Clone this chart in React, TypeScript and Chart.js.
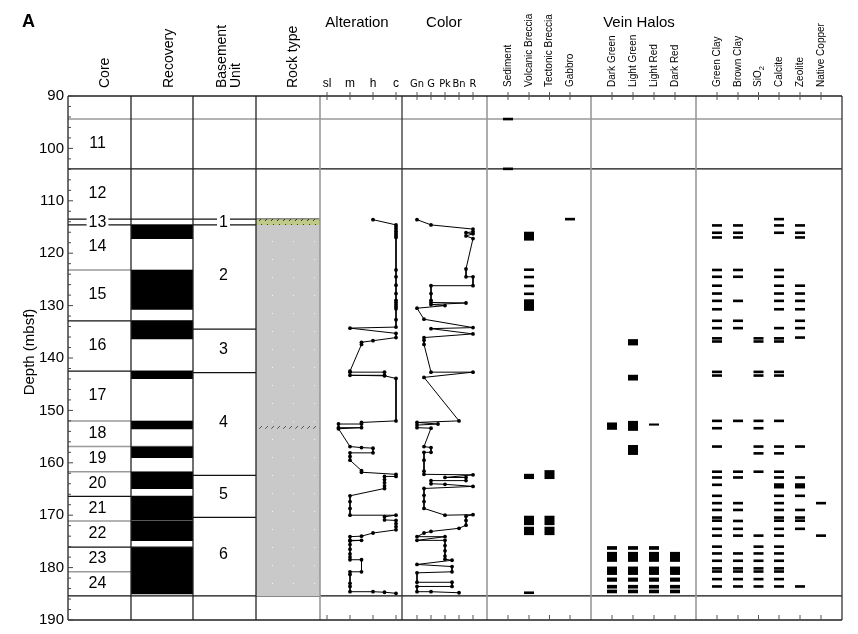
import React, { useEffect, useRef } from "react";
import { Chart, registerables } from "chart.js";
Chart.register(...registerables);

const FONT = "'Liberation Sans', Arial, Helvetica, sans-serif";
const NARROW = "'Liberation Sans Narrow', 'DejaVu Sans Condensed', 'Liberation Sans', sans-serif";

// ---------------- DATA ----------------
const depthMin = 90;
const depthMax = 190;

const coreNames = ["11", "12", "13", "14", "15", "16", "17", "18", "19", "20", "21", "22", "23", "24"];
const coreTops = [94.4, 103.9, 113.5, 114.6, 123.2, 132.9, 142.5, 152.0, 156.9, 161.7, 166.4, 171.1, 176.1, 180.8];
const coreBottoms = [103.9, 113.5, 114.6, 123.2, 132.9, 142.5, 152.0, 156.9, 161.7, 166.4, 171.1, 176.1, 180.8, 185.4];

const recoveryTops = [114.6, 123.2, 132.9, 142.5, 152.0, 156.9, 161.7, 166.4, 171.1, 176.1];
const recoveryBottoms = [117.3, 130.8, 136.4, 144.0, 153.6, 159.1, 165.0, 171.0, 174.9, 185.1];

const unitNames = ["1", "2", "3", "4", "5", "6"];
const unitTops = [113.5, 114.6, 134.5, 142.8, 162.4, 170.4];
const unitBottoms = [114.6, 134.5, 142.8, 162.4, 170.4, 185.4];

const basaltInterval = [114.6, 185.4];
const sedimentInterval = [113.5, 114.6];
const brecciaHatchInterval = [152.7, 153.5];

const alterationLabels = ["sl", "m", "h", "c"];
// [depth, class] sl=1 m=2 h=3 c=4
const alteration = [
  [113.6, 3], [114.6, 4], [115.0, 4], [115.4, 4], [115.8, 4], [116.2, 4], [116.6, 4], [117.0, 4],
  [123.2, 4], [124.5, 4], [126.1, 4], [127.7, 4], [129.0, 4], [129.4, 4], [129.8, 4], [130.2, 4], [130.6, 4], [132.7, 4], [134.1, 4],
  [134.3, 2], [135.3, 4], [136.1, 4], [136.7, 3], [137.0, 2.5], [137.4, 2.5],
  [142.5, 2], [142.7, 2], [142.7, 3.5], [143.3, 3.5], [143.3, 2], [143.4, 3.5], [143.9, 4],
  [152.0, 4], [152.3, 2.5], [152.6, 2.5], [152.6, 1.5], [153.3, 1.5], [153.3, 2.5], [153.5, 1.5],
  [156.9, 2], [157.1, 2.5], [157.2, 3], [158.1, 3], [158.1, 2], [158.8, 2], [159.5, 2],
  [161.5, 2.5], [161.8, 2.5], [162.2, 4], [162.6, 4], [162.6, 3.5], [163.2, 3.5], [163.8, 3.5], [164.4, 3.5], [164.9, 3.5],
  [166.3, 2], [167.4, 2], [168.7, 2], [170.0, 2], [170.0, 4], [170.3, 3.5], [170.9, 3.5], [171.0, 4], [171.6, 4], [172.2, 4], [172.8, 4],
  [173.4, 3], [174.0, 2.5], [174.1, 2], [174.8, 2], [174.8, 2.5], [174.9, 2], [175.6, 2], [176.5, 2], [177.4, 2], [178.0, 2],
  [178.5, 2], [178.5, 2.5], [180.8, 2.5], [180.8, 2], [181.3, 2], [183.0, 2], [183.6, 2], [184.6, 2], [184.6, 3], [184.7, 3.5], [184.9, 4],
];

const colorLabels = ["Gn", "G", "Pk", "Bn", "R"];
// [depth, class] Gn=1 G=2 Pk=3 Bn=4 R=5
const color = [
  [113.6, 1], [114.6, 2], [115.4, 5], [115.9, 5], [116.1, 4.5], [116.3, 5], [116.7, 4.5], [117.2, 5],
  [123.0, 4.5], [124.5, 4.5], [124.5, 5], [126.2, 5], [126.2, 2], [127.7, 2], [129.0, 2], [129.4, 2], [129.5, 4.5], [129.8, 2], [130.0, 3], [130.5, 1],
  [132.6, 1.5], [134.2, 5], [134.4, 2], [135.4, 5], [136.1, 1.5], [136.6, 1.5], [137.4, 1.5],
  [142.7, 2], [142.7, 5], [143.7, 1.5], [152.0, 4], [152.3, 1], [152.6, 2.5], [152.8, 1], [153.3, 1], [153.4, 2],
  [156.9, 1.5], [157.1, 2], [158.0, 2], [158.0, 1.5], [159.5, 1.5], [161.6, 1.5], [162.2, 1.5], [162.3, 5], [162.8, 3], [162.8, 4.5],
  [163.4, 4.5], [163.4, 2], [164.0, 2], [164.1, 3], [164.5, 5], [164.9, 1.5], [166.2, 1.5], [167.4, 1.5], [168.7, 1.5],
  [170.0, 3], [169.9, 5], [170.2, 4.5], [171.0, 4.5], [171.9, 4.5], [172.5, 4], [173.1, 2], [173.4, 1.5], [174.1, 1], [174.1, 3],
  [174.8, 1], [174.8, 3], [175.8, 3], [176.8, 3], [177.8, 3], [178.4, 3], [178.6, 3.5], [179.4, 1], [179.8, 3.5], [180.8, 3.5],
  [181.0, 1], [182.8, 1], [182.8, 3.5], [183.6, 3.5], [183.6, 1], [184.6, 1], [184.6, 2], [184.8, 4],
];

const brecciaLabels = ["Sediment", "Volcanic Breccia", "Tectonic Breccia", "Gabbro"];
const sedimentMarks = [[94.15, 94.65], [103.65, 104.15]];
const volcanicBreccia = [[115.9, 117.6], [122.9, 123.4], [124.3, 124.8], [126.0, 126.5], [127.5, 128.0], [128.8, 131.0], [162.1, 163.1], [170.1, 171.9], [172.2, 173.8], [184.55, 185.05]];
const tectonicBreccia = [[161.4, 163.1], [170.1, 171.9], [172.2, 173.8]];
const gabbro = [[113.25, 113.75]];

const haloLabels = ["Dark Green", "Light Green", "Light Red", "Dark Red"];
const darkGreenHalo = [[152.3, 153.7], [175.9, 176.6], [177.0, 178.9], [179.8, 181.4], [181.9, 182.7], [183.3, 184.0], [184.2, 184.9]];
const lightGreenHalo = [[136.4, 137.6], [143.2, 144.3], [152.0, 153.9], [156.6, 158.5], [175.9, 176.6], [177.0, 178.9], [179.8, 181.4], [181.9, 182.7], [183.3, 184.0], [184.2, 184.9]];
const lightRedHalo = [[152.5, 152.9], [175.9, 176.6], [177.0, 178.9], [179.8, 181.4], [181.9, 182.7], [183.3, 184.0], [184.2, 184.9]];
const darkRedHalo = [[177.0, 178.9], [179.8, 181.4], [181.9, 182.7], [183.3, 184.0], [184.2, 184.9]];

const mineralLabels = ["Green Clay", "Brown Clay", "SiO2", "Calcite", "Zeolite", "Native Copper"];
const greenClay = [114.7, 116.1, 117.0, 123.2, 124.5, 126.2, 127.7, 129.1, 130.7, 132.9, 134.3, 136.25, 136.85, 142.65, 143.35, 152.0, 153.4, 156.9, 161.7, 162.8, 164.2, 166.3, 167.7, 169.0, 170.45, 171.05, 172.6, 173.9, 176.0, 177.3, 178.7, 180.15, 180.75, 182.2, 183.6];
const brownClay = [114.7, 116.1, 117.0, 123.2, 124.5, 129.1, 132.9, 134.3, 152.0, 161.7, 162.8, 167.7, 169.0, 171.1, 172.6, 173.9, 177.3, 178.7, 180.15, 180.75, 182.2, 183.6];
const sio2 = [136.25, 136.85, 142.65, 143.35, 152.0, 153.4, 156.9, 158.2, 161.7, 173.9, 176.0, 177.3, 178.7, 180.15, 180.75, 182.2, 183.6];
const calcite = [113.5, 114.7, 116.1, 123.2, 124.5, 126.2, 127.7, 129.1, 130.7, 134.3, 136.25, 136.85, 142.65, 143.35, 152.0, 156.9, 158.2, 161.7, 162.8, [163.9, 164.9], 166.3, 167.7, 169.0, 170.45, 171.05, 172.6, 173.9, 176.0, 177.3, 178.7, 180.15, 180.75, 182.2, 183.6];
const zeolite = [114.7, 116.1, 117.0, 126.2, 127.7, 129.1, 130.7, 132.9, 134.3, 136.1, 156.9, 162.8, [163.9, 164.9], 166.3, 169.0, 170.45, 171.05, 172.6, 183.6];
const nativeCopper = [167.7, 173.9];

// ---------------- LAYOUT (x units = page pixels) ----------------
const X_LEFT = 68;
const X_RIGHT = 842;
const COLUMN_EDGES = [131, 193, 256, 320, 402, 487, 591, 696, 842];
const EDGE_COLORS = ["#222", "#222", "#222", "#999", "#333", "#999", "#999", "#999", "#333"];
const ALT_X = [327, 350, 373, 396];
const COLOR_X = [417, 431, 445, 459, 473];
const BRECCIA_X = [508, 529, 549.5, 570];
const HALO_X = [612, 633, 654, 675];
const MINERAL_X = [717, 738, 758.5, 779, 800, 821];
const CORE_X = 97.5, RECOVERY_X = 162, UNIT_X = 223.5, ROCK_X = 288;
const GRAY_CORE_LINES = [123.2, 152.0, 156.9, 161.7, 171.1, 180.8];
const DASH = 0.5;

const altX = (v: number) => ALT_X[0] + (v - 1) * (ALT_X[3] - ALT_X[0]) / 3;
const colX = (v: number) => COLOR_X[0] + (v - 1) * (COLOR_X[4] - COLOR_X[0]) / 4;
const toInterval = (m: any) => (Array.isArray(m) ? m : [m - DASH / 2, m + DASH / 2]);

function lineDs(pts: number[][], mapX: (v: number) => number) {
  return {
    type: "scatter",
    showLine: true,
    data: pts.map(([d, v]) => ({ x: mapX(v), y: d })),
    borderColor: "#000",
    borderWidth: 1,
    pointRadius: 1.9,
    pointBackgroundColor: "#000",
    pointBorderWidth: 0,
    order: 0,
  };
}

function barDs(xc: number, intervals: any[], thickness: number, bg: any, order: number) {
  return {
    type: "bar",
    data: intervals.map((iv) => ({ x: xc, y: iv })),
    backgroundColor: bg,
    borderWidth: 0,
    borderSkipped: false,
    barThickness: thickness,
    inflateAmount: 0,
    stack: "all",
    order,
  };
}

const decorPlugin = {
  id: "decor",
  beforeDatasetsDraw(chart: any) {
    const { ctx, scales } = chart;
    const X = (v: number) => scales.x.getPixelForValue(v);
    const Y = (d: number) => scales.y.getPixelForValue(d);
    ctx.save();
    const hline = (d: number, x1: number, x2: number, col: string, w: number) => {
      ctx.strokeStyle = col;
      ctx.lineWidth = w;
      ctx.beginPath();
      ctx.moveTo(X(x1), Y(d));
      ctx.lineTo(X(x2), Y(d));
      ctx.stroke();
    };
    hline(coreTops[0], X_LEFT, X_RIGHT, "#999", 1.5);
    hline(coreTops[1], X_LEFT, X_RIGHT, "#111", 1.2);
    hline(coreBottoms[coreBottoms.length - 1], X_LEFT, X_RIGHT, "#111", 1.2);
    coreTops.slice(2).forEach((t) => {
      const gray = GRAY_CORE_LINES.includes(t);
      hline(t, X_LEFT, COLUMN_EDGES[1], gray ? "#999" : "#111", gray ? 1.5 : 1.2);
    });
    unitTops.forEach((t) => hline(t, COLUMN_EDGES[1], COLUMN_EDGES[3], "#111", 1.2));
    ctx.restore();
  },
  afterDatasetsDraw(chart: any) {
    const { ctx, chartArea: ca, scales } = chart;
    const X = (v: number) => scales.x.getPixelForValue(v);
    const Y = (d: number) => scales.y.getPixelForValue(d);
    ctx.save();
    COLUMN_EDGES.forEach((e, i) => {
      ctx.strokeStyle = EDGE_COLORS[i];
      ctx.lineWidth = EDGE_COLORS[i] === "#999" ? 1.6 : 1.3;
      ctx.beginPath();
      ctx.moveTo(X(e), ca.top);
      ctx.lineTo(X(e), ca.bottom);
      ctx.stroke();
    });
    ctx.strokeStyle = "#222";
    ctx.lineWidth = 1.3;
    ctx.beginPath();
    ctx.moveTo(ca.left, ca.top);
    ctx.lineTo(ca.right, ca.top);
    ctx.moveTo(ca.left, ca.bottom);
    ctx.lineTo(ca.right, ca.bottom);
    ctx.moveTo(ca.left, ca.top);
    ctx.lineTo(ca.left, ca.bottom);
    ctx.stroke();
    ctx.strokeStyle = "#444";
    ctx.lineWidth = 1;
    for (let d = depthMin; d <= depthMax; d += 2) {
      const len = d % 10 === 0 ? 5 : 3;
      const yy = Y(d);
      ctx.beginPath();
      ctx.moveTo(ca.left, yy);
      ctx.lineTo(ca.left + len, yy);
      ctx.stroke();
    }
    const allTicks = [...ALT_X, ...COLOR_X, ...BRECCIA_X, ...HALO_X, ...MINERAL_X];
    ctx.strokeStyle = "#555";
    allTicks.forEach((t) => {
      ctx.beginPath();
      ctx.moveTo(X(t), ca.top - 4);
      ctx.lineTo(X(t), ca.top + 4);
      ctx.moveTo(X(t), ca.bottom - 5);
      ctx.lineTo(X(t), ca.bottom);
      ctx.stroke();
    });
    ctx.font = `16px ${FONT}`;
    ctx.textAlign = "center";
    ctx.textBaseline = "middle";
    const label = (txt: string, x: number, d: number) => {
      const w = ctx.measureText(txt).width;
      const yy = Y(d);
      ctx.fillStyle = "#fff";
      ctx.fillRect(X(x) - w / 2 - 2, yy - 6, w + 4, 12);
      ctx.fillStyle = "#000";
      ctx.fillText(txt, X(x), yy + 0.5);
    };
    coreNames.forEach((n, i) => label(n, CORE_X, (coreTops[i] + coreBottoms[i]) / 2 - (i === 2 ? 0 : 0.2)));
    unitNames.forEach((n, i) => label(n, UNIT_X, (unitTops[i] + unitBottoms[i]) / 2 - (i === 0 ? 0 : 0.4)));
    ctx.restore();
  },
  afterDraw(chart: any) {
    const { ctx, scales } = chart;
    const X = (v: number) => scales.x.getPixelForValue(v);
    ctx.save();
    ctx.fillStyle = "#000";
    ctx.font = `bold 18px ${FONT}`;
    ctx.textAlign = "left";
    ctx.textBaseline = "middle";
    ctx.fillText("A", 22, 22);
    ctx.font = `15px ${FONT}`;
    ctx.textAlign = "center";
    ctx.fillText("Alteration", X(357), 23);
    ctx.fillText("Color", X(444), 23);
    ctx.fillText("Vein Halos", X(639), 23);
    const vtext = (txt: string, x: number, y: number, size: number) => {
      ctx.save();
      ctx.translate(x, y);
      ctx.rotate(-Math.PI / 2);
      ctx.font = `${size}px ${FONT}`;
      ctx.textAlign = "left";
      ctx.textBaseline = "middle";
      if (txt === "SiO2") {
        ctx.fillText("SiO", 0, 0);
        const w = ctx.measureText("SiO").width;
        ctx.font = `${size * 0.75}px ${FONT}`;
        ctx.fillText("2", w, 3.5);
      } else {
        ctx.fillText(txt, 0, 0);
      }
      ctx.restore();
    };
    vtext("Core", X(105), 88, 14);
    vtext("Recovery", X(169), 88, 14);
    vtext("Basement", X(222), 88, 14);
    vtext("Unit", X(236), 88, 14);
    vtext("Rock type", X(293), 88, 14);
    brecciaLabels.forEach((l, i) => vtext(l, X(BRECCIA_X[i]), 87, 10));
    haloLabels.forEach((l, i) => vtext(l, X(HALO_X[i]), 87, 10));
    mineralLabels.forEach((l, i) => vtext(l, X(MINERAL_X[i]), 87, 10));
    ctx.font = `12px ${FONT}`;
    ctx.textAlign = "center";
    ctx.textBaseline = "alphabetic";
    alterationLabels.forEach((l, i) => ctx.fillText(l, X(ALT_X[i]), 87));
    ctx.font = `11px ${NARROW}`;
    colorLabels.forEach((l, i) => ctx.fillText(l, X(COLOR_X[i]), 87));
    ctx.save();
    ctx.translate(30, 352);
    ctx.rotate(-Math.PI / 2);
    ctx.font = `15px ${FONT}`;
    ctx.textAlign = "center";
    ctx.textBaseline = "middle";
    ctx.fillText("Depth (mbsf)", 0, 0);
    ctx.restore();
    ctx.restore();
  },
};

export default function App() {
  const canvasRef = useRef<HTMLCanvasElement | null>(null);
  useEffect(() => {
    const canvas = canvasRef.current;
    if (!canvas) return;
    const mainCtx = canvas.getContext("2d") as CanvasRenderingContext2D;
    const mk = (w: number, h: number, draw: (g: CanvasRenderingContext2D) => void) => {
      const c = document.createElement("canvas");
      c.width = w;
      c.height = h;
      draw(c.getContext("2d") as CanvasRenderingContext2D);
      return mainCtx.createPattern(c, "repeat");
    };
    const basaltPattern = mk(21, 18, (g) => {
      g.fillStyle = "#c9c9c9";
      g.fillRect(0, 0, 21, 18);
      g.fillStyle = "#f4f4f4";
      g.fillRect(20, 7, 1, 1);
    });
    const sedimentPattern = mk(6, 6, (g) => {
      g.fillStyle = "#bfc98a";
      g.fillRect(0, 0, 6, 6);
      g.strokeStyle = "#333";
      g.lineWidth = 1;
      g.beginPath();
      g.moveTo(1, 5);
      g.lineTo(4, 2);
      g.stroke();
    });
    const hatchPattern = mk(6, 5, (g) => {
      g.clearRect(0, 0, 6, 5);
      g.strokeStyle = "#555";
      g.lineWidth = 1;
      g.beginPath();
      g.moveTo(1, 4);
      g.lineTo(4, 1);
      g.stroke();
    });

    const brecciaSeries = [sedimentMarks, volcanicBreccia, tectonicBreccia, gabbro];
    const haloSeries = [darkGreenHalo, lightGreenHalo, lightRedHalo, darkRedHalo];
    const mineralSeries = [greenClay, brownClay, sio2, calcite, zeolite, nativeCopper];

    const datasets: any[] = [
      lineDs(alteration, altX),
      lineDs(color, colX),
      ...brecciaSeries.map((s, i) => barDs(BRECCIA_X[i], s, 10, "#000", 1)),
      ...haloSeries.map((s, i) => barDs(HALO_X[i], s, 10, "#000", 1)),
      ...mineralSeries.map((s, i) => barDs(MINERAL_X[i], (s as any[]).map(toInterval), 10, "#000", 1)),
      barDs(RECOVERY_X, recoveryTops.map((t, i) => [t, recoveryBottoms[i]]), 62, "#000", 2),
      barDs(ROCK_X, [sedimentInterval], 64, sedimentPattern, 2),
      barDs(ROCK_X, [brecciaHatchInterval], 64, hatchPattern, 2),
      barDs(ROCK_X, [basaltInterval], 64, basaltPattern, 3),
    ];

    const chart = new Chart(canvas, {
      type: "bar",
      data: { datasets },
      options: {
        responsive: false,
        animation: false,
        devicePixelRatio: 1,
        events: [],
        layout: { padding: { left: 8, right: 16, top: 96, bottom: 14 } },
        plugins: { legend: { display: false }, tooltip: { enabled: false } },
        scales: {
          x: {
            type: "linear",
            min: X_LEFT,
            max: X_RIGHT,
            display: false,
            offset: false,
            grid: { offset: false },
          },
          y: {
            type: "linear",
            min: depthMin,
            max: depthMax,
            reverse: true,
            stacked: false,
            afterFit: (scale: any) => {
              scale.width = 60;
            },
            grid: { display: false, drawTicks: false },
            border: { display: false },
            ticks: {
              stepSize: 10,
              padding: 4,
              color: "#000",
              font: { size: 15, family: FONT },
            },
          },
        },
      } as any,
      plugins: [decorPlugin as any],
    } as any);
    return () => chart.destroy();
  }, []);

  return (
    <div style={{ position: "fixed", left: 0, top: 0, width: 858, height: 634, background: "#fff" }}>
      <canvas ref={canvasRef} width={858} height={634} style={{ display: "block", width: 858, height: 634 }} />
    </div>
  );
}
